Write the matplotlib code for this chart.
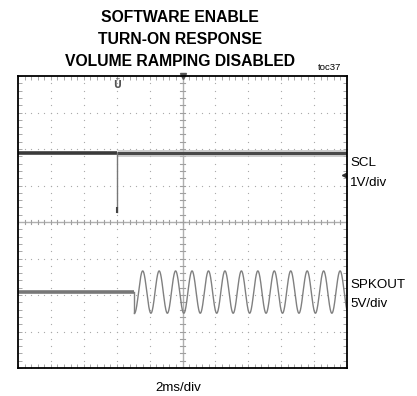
import matplotlib.pyplot as plt
import numpy as np

# scope traces, in divisions (10 x 8 grid, centre = 0)
scl_level = 1.9          # SCL idle level
scl_glitch_t = 3.0       # software enable write
scl_glitch_low = 0.27
spk_base = -1.92         # SPKOUT quiescent level
spk_on_t = 3.54          # output turns on
spk_amp = 0.58           # div
spk_period = 0.5         # div (1kHz at 2ms/div)
trig_level = 1.3

title_lines = ["SOFTWARE ENABLE", "TURN-ON RESPONSE", "VOLUME RAMPING DISABLED"]

fig = plt.figure(figsize=(4.17, 3.96), dpi=100)
ax = fig.add_axes([18/417, 28/396, 329/417, 292/396])
ax.set_xlim(0, 10)
ax.set_ylim(-4, 4)

# dotted graticule
dots = np.arange(0, 10.01, 0.2)
for gy in range(-3, 4):
    if gy != 0:
        ax.plot(dots, np.full_like(dots, gy), ls='none', marker='o', ms=0.9,
                color='#a8a8a8', mec='none')
dots_y = np.arange(-4, 4.01, 0.2)
for gx in range(1, 10):
    if gx != 5:
        ax.plot(np.full_like(dots_y, gx), dots_y, ls='none', marker='o', ms=0.9,
                color='#a8a8a8', mec='none')
# centre axes with small ticks
ax.axhline(0, color='#b0b0b0', lw=1)
ax.axvline(5, color='#b0b0b0', lw=1)
for t in np.arange(0, 10.01, 0.2):
    ax.plot([t, t], [-0.06, 0.06], color='#a0a0a0', lw=0.8)
for t in np.arange(-4, 4.01, 0.2):
    ax.plot([4.92, 5.08], [t, t], color='#a0a0a0', lw=0.8)

ax.set_xticks(range(0, 11))
ax.set_yticks(range(-4, 5))
ax.set_xticks(np.arange(0, 10.01, 0.2), minor=True)
ax.set_yticks(np.arange(-4, 4.01, 0.2), minor=True)
ax.tick_params(which='both', direction='in', top=True, right=True, colors='#a8a8a8',
               labelbottom=False, labelleft=False, length=3, width=0.7)
for s in ax.spines.values():
    s.set_linewidth(1.3)
    s.set_color('black')

# SCL trace
ax.plot([0, scl_glitch_t], [scl_level, scl_level], color='#3a3a3a', lw=2.6, solid_capstyle='butt')
ax.plot([scl_glitch_t, 10], [scl_level, scl_level], color='#bbbbbb', lw=5, alpha=0.7, solid_capstyle='butt')
ax.plot([scl_glitch_t, 10], [scl_level, scl_level], color='#4a4a4a', lw=2.2, solid_capstyle='butt')
ax.plot([scl_glitch_t, scl_glitch_t], [scl_level, scl_glitch_low], color='#777777', lw=1)
ax.plot([scl_glitch_t], [scl_glitch_low + 0.05], marker='|', ms=4, color='#444444', mew=1.5)

# SPKOUT trace
ax.plot([0, spk_on_t], [spk_base, spk_base], color='#777777', lw=2.6, solid_capstyle='butt')
t = np.linspace(spk_on_t, 10, 2000)
y = spk_base - spk_amp * np.cos(2 * np.pi * (t - spk_on_t) / spk_period)
ax.plot(t, y, color='#808080', lw=1)
ax.plot([spk_on_t, spk_on_t], [spk_base, spk_base - spk_amp], color='#808080', lw=1)

# markers
ax.plot([5], [4], marker='v', ms=4, color='#555555', clip_on=False)
ax.plot([9.9], [trig_level], marker='<', ms=3, color='#333333', clip_on=False)
ax.text(scl_glitch_t, 3.75, 'Ü', fontsize=7, color='#555555', ha='center', va='center',
        fontweight='bold')

fnt = ['Liberation Sans', 'DejaVu Sans']
for i, line in enumerate(title_lines):
    fig.text(180/417, 1 - (18 + 22 * i)/396, line, ha='center', va='center',
             fontsize=11.3, fontweight='bold', family=fnt)
fig.text(330/417, 1 - 68/396, 'toc37', ha='center', va='center', fontsize=6.8, family=fnt)

fig.text(350/417, 1 - 163/396, 'SCL', ha='left', va='center', fontsize=9.6, family=fnt)
fig.text(350/417, 1 - 183/396, '1V/div', ha='left', va='center', fontsize=9.6, family=fnt)
fig.text(350/417, 1 - 285/396, 'SPKOUT', ha='left', va='center', fontsize=9.6, family=fnt)
fig.text(350/417, 1 - 304/396, '5V/div', ha='left', va='center', fontsize=9.6, family=fnt)
fig.text(178/417, 1 - 388/396, '2ms/div', ha='center', va='center', fontsize=9.6, family=fnt)

fig.savefig('out.png', dpi=100)
